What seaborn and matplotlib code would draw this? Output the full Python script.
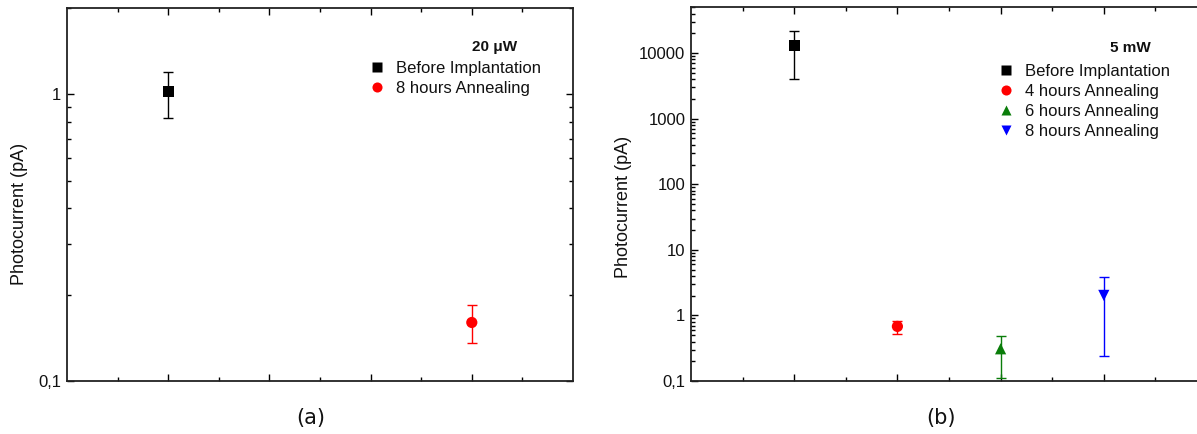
import matplotlib
matplotlib.use("Agg")
import matplotlib.pyplot as plt
import seaborn as sns
import pandas as pd
import numpy as np
from matplotlib.ticker import FixedLocator, FixedFormatter, LogLocator, NullFormatter

# ---------------- data ----------------
a_labels = ["Before Implantation", "8 hours Annealing"]
a_x = [1, 4]
a_y = [1.02, 0.160]
a_err_low = [0.825, 0.136]
a_err_high = [1.20, 0.184]
a_title = "20 μW"

b_labels = ["Before Implantation", "4 hours Annealing", "6 hours Annealing", "8 hours Annealing"]
b_x = [1, 2, 3, 4]
b_y = [12900, 0.68, 0.31, 2.02]
b_err_low = [4050, 0.52, 0.112, 0.24]
b_err_high = [21400, 0.83, 0.48, 3.86]
b_title = "5 mW"

a_yticks = [0.1, 1]
a_yticklabels = ["0,1", "1"]
b_yticks = [0.1, 1, 10, 100, 1000, 10000]
b_yticklabels = ["0,1", "1", "10", "100", "1000", "10000"]

colors = {"Before Implantation": "black", "4 hours Annealing": "#ff0000",
          "6 hours Annealing": "#0a7d0a", "8 hours Annealing": "#0000ff"}
a_colors = {"Before Implantation": "black", "8 hours Annealing": "#ff0000"}
markers_a = {"Before Implantation": "s", "8 hours Annealing": "o"}
markers_b = {"Before Implantation": "s", "4 hours Annealing": "o",
             "6 hours Annealing": "^", "8 hours Annealing": "v"}

sns.set_theme(style="white")
plt.rcParams['font.family'] = ['Liberation Sans', 'DejaVu Sans']

fig = plt.figure(figsize=(11.97, 4.34), dpi=100)
axa = fig.add_axes([67/1197, 53/434, 506/1197, 373/434])
axb = fig.add_axes([691/1197, 53/434, 516/1197, 374.3/434])


def panel(ax, labels, xs, ys, lo, hi, pal, mk, ylim, yticks, yticklabels, title,
          leg_anchor, title_pos, ylab_x, ylab_y):
    df = pd.DataFrame({"x": xs, "y": ys, "label": labels})
    for lab, x, y, l, h in zip(labels, xs, ys, lo, hi):
        ax.errorbar([x], [y], yerr=[[y - l], [h - y]], fmt='none',
                    ecolor=pal[lab], elinewidth=1.0, capsize=3.5, capthick=1.0, zorder=2)
    sns.scatterplot(data=df, x="x", y="y", hue="label", style="label",
                    palette=pal, markers=mk, s=65, edgecolor='none',
                    ax=ax, zorder=3, legend=True)
    ax.set_yscale('log')
    ax.set_xlim(0, 5)
    ax.set_ylim(*ylim)
    ax.xaxis.set_major_locator(FixedLocator([1, 2, 3, 4]))
    ax.xaxis.set_minor_locator(FixedLocator([0.5, 1.5, 2.5, 3.5, 4.5]))
    ax.set_xticklabels([])
    ax.yaxis.set_major_locator(FixedLocator(yticks))
    ax.yaxis.set_major_formatter(FixedFormatter(yticklabels))
    ax.yaxis.set_minor_locator(LogLocator(base=10, subs=np.arange(2, 10), numticks=20))
    ax.yaxis.set_minor_formatter(NullFormatter())
    ax.tick_params(which='both', direction='in', top=True, right=True,
                   bottom=True, left=True, color='black')
    ax.tick_params(which='major', length=5, width=1.0, labelsize=12, pad=4,
                   labelcolor='#111111')
    ax.tick_params(which='minor', length=3, width=1.0)
    for s in ax.spines.values():
        s.set_color('#222222')
        s.set_linewidth(1.3)
    ax.set_xlabel("")
    ax.set_ylabel("Photocurrent (pA)", fontsize=13, color='#111111')
    ax.yaxis.set_label_coords(ylab_x, ylab_y)
    h, l = ax.get_legend_handles_labels()
    leg = ax.legend(h, l, loc='upper left', bbox_to_anchor=leg_anchor,
                    bbox_transform=fig.transFigure, frameon=False,
                    fontsize=12, borderpad=0, borderaxespad=0,
                    handlelength=0.6, handletextpad=0.85, labelspacing=0.3,
                    markerscale=0.9)
    for t in leg.get_texts():
        t.set_color('#111111')
    fig.text(title_pos[0], title_pos[1], title, fontsize=11, fontweight='bold',
             ha='center', va='center', color='#111111')


panel(axa, a_labels, a_x, a_y, a_err_low, a_err_high, a_colors, markers_a,
      (0.1, 2.0), a_yticks, a_yticklabels, a_title,
      (372/1197, 1 - 61/434), (495/1197, 1 - 47/434), -0.077, 0.448)
panel(axb, b_labels, b_x, b_y, b_err_low, b_err_high, colors, markers_b,
      (0.1, 51000), b_yticks, b_yticklabels, b_title,
      (1001/1197, 1 - 64/434), (1130/1197, 1 - 48/434), -0.114, 0.465)

fig.text(311/1197, 1 - 418/434, "(a)", fontsize=15, family='DejaVu Sans',
         ha='center', va='center', color='#111111')
fig.text(941/1197, 1 - 418/434, "(b)", fontsize=15, family='DejaVu Sans',
         ha='center', va='center', color='#111111')

fig.savefig("out.png", dpi=100)
